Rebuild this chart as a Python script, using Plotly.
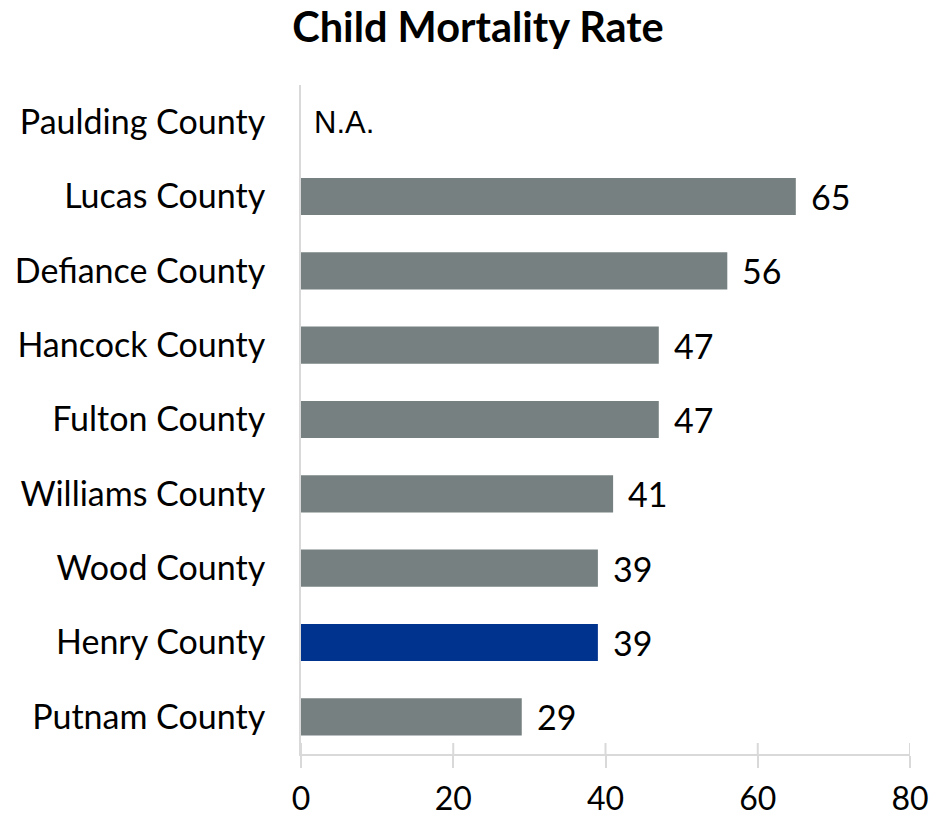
import plotly.graph_objects as go

counties = ["Paulding County", "Lucas County", "Defiance County", "Hancock County",
            "Fulton County", "Williams County", "Wood County", "Henry County", "Putnam County"]
rates = [None, 65, 56, 47, 47, 41, 39, 39, 29]
labels = ["N.A.", "65", "56", "47", "47", "41", "39", "39", "29"]
highlight = "Henry County"
x_ticks = [0, 20, 40, 60, 80]

GRAY = "rgb(118,128,128)"
BLUE = "rgb(0,51,141)"
AXIS = "#D9D9D9"
FONT = "Lato, 'Noto Sans', sans-serif"

# the page body adds an 8px margin around the figure; compensate
OFF = 8

colors = [BLUE if c == highlight else GRAY for c in counties]

fig = go.Figure()
fig.add_trace(go.Bar(
    y=counties,
    x=[v if v is not None else 0 for v in rates],
    orientation="h",
    marker=dict(color=colors, line=dict(width=0)),
    hoverinfo="skip",
))

for c, v, t in zip(counties, rates, labels):
    if v is None:
        fig.add_annotation(x=0, y=c, text=t, showarrow=False, xanchor="left",
                           xshift=11, font=dict(family="'Liberation Sans', Arial", size=31, color="#000"))
    else:
        fig.add_annotation(x=v, y=c, text=t, showarrow=False, xanchor="left",
                           xshift=13, font=dict(family=FONT, size=34, color="#000"))

# inside half of the crossing tick marks
for t in x_ticks:
    fig.add_shape(type="line", xref="x", yref="paper", x0=t, x1=t,
                  ysizemode="pixel", yanchor=0, y0=0, y1=11,
                  line=dict(color=AXIS, width=2))

fig.update_layout(
    width=945, height=819,
    margin=dict(l=301 - OFF, r=35 + OFF, t=85 - OFF, b=65 + OFF),
    paper_bgcolor="white", plot_bgcolor="white",
    bargap=0.5,
    showlegend=False,
    title=dict(text="<b>Child Mortality Rate</b>", x=(478 - OFF) / 945, xanchor="center",
               y=1 - (27 - OFF) / 819, yanchor="middle", yref="container",
               font=dict(family=FONT, size=41.5, color="#000")),
    font=dict(family=FONT, color="#000"),
)
fig.update_xaxes(range=[0, 80], tickvals=x_ticks, showgrid=False, zeroline=False,
                 automargin=False,
                 showline=True, linecolor=AXIS, linewidth=2,
                 ticks="outside", ticklen=12, tickcolor=AXIS, tickwidth=2,
                 tickfont=dict(family=FONT, size=32, color="#000"),
                 ticklabelstandoff=4)
fig.update_yaxes(autorange="reversed", showgrid=False, zeroline=False,
                 automargin=False,
                 showline=True, linecolor=AXIS, linewidth=2, ticks="",
                 tickfont=dict(family=FONT, size=34, color="#000"),
                 ticklabelstandoff=27)

fig.write_html("out.html")
